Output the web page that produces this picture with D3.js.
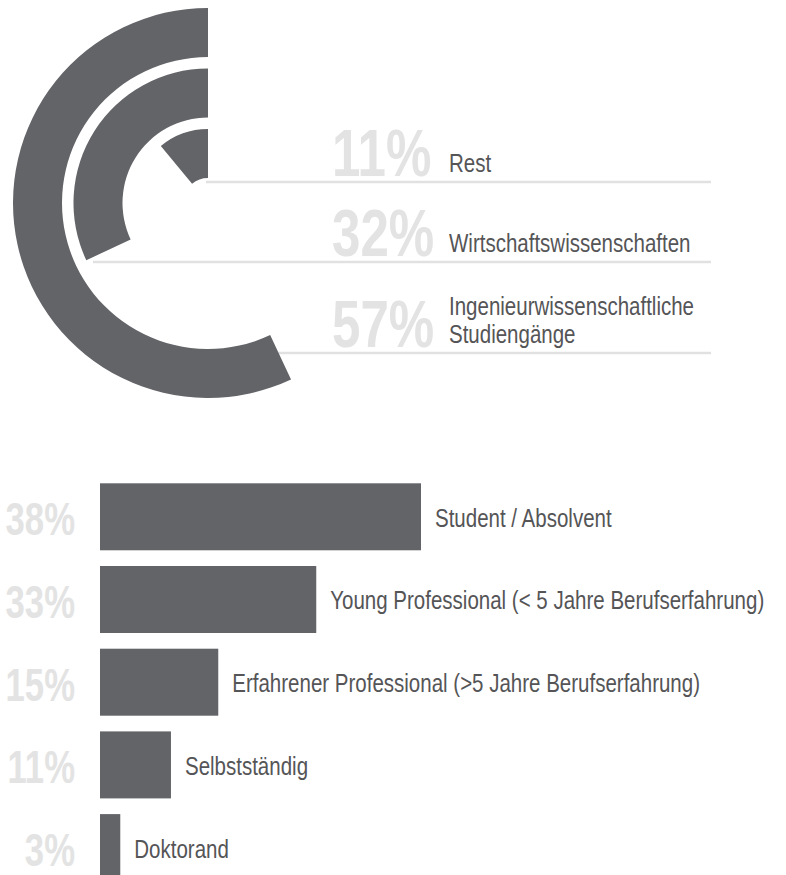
<!DOCTYPE html>
<html>
<head>
<meta charset="utf-8">
<script src="https://cdn.jsdelivr.net/npm/d3@7"></script>
<style>
  html, body { margin: 0; padding: 0; background: #ffffff; }
  svg { display: block; }
</style>
</head>
<body>
<div id="chart"></div>
<script>
// ---------- data ----------
const ringCategories = ["Rest", "Wirtschaftswissenschaften", "Ingenieurwissenschaftliche Studiengänge"];
const ringValues = [11, 32, 57];
const ringLabelLines = [["Rest"], ["Wirtschaftswissenschaften"], ["Ingenieurwissenschaftliche", "Studiengänge"]];

const barCategories = [
  "Student / Absolvent",
  "Young Professional (< 5 Jahre Berufserfahrung)",
  "Erfahrener Professional (>5 Jahre Berufserfahrung)",
  "Selbstständig",
  "Doktorand"
];
// percentages printed next to the bars
const barPercentLabels = [38, 33, 15, 11, 3];
// bar lengths as drawn in the reference (not to scale there), read in % units
const barDrawnValues = [38, 25.6, 14.0, 8.4, 2.4];

// ---------- setup ----------
const W = 786, H = 875;
const barColor = "#636468";
const pctColor = "#e3e3e3";
const textColor = "#555557";
const ruleColor = "#e1e1e1";

// font detection: narrow font installed?
function narrowAvailable(name, weight) {
  const c = document.createElement("canvas").getContext("2d");
  const s = "Wirtschaftswissenschaften 0123456789%";
  c.font = `${weight} 40px monospace`;
  const a = c.measureText(s).width;
  c.font = `${weight} 40px '${name}', monospace`;
  const b = c.measureText(s).width;
  return Math.abs(a - b) > 0.5;
}
const hasNarrow = narrowAvailable("Liberation Sans Narrow", "normal");
const narrowFamily = hasNarrow ? "'Liberation Sans Narrow', 'Liberation Sans', Arial, sans-serif"
                               : "'Liberation Sans', Arial, sans-serif";
const narrowScale = hasNarrow ? 1 : 0.82;

const svg = d3.select("#chart").append("svg")
  .attr("width", W).attr("height", H);

function narrowText(g, x, y, sx, size, weight, color, anchor) {
  return g.append("text")
    .attr("transform", `translate(${x},${y}) scale(${sx * narrowScale},1)`)
    .attr("font-family", narrowFamily)
    .attr("font-size", size)
    .attr("font-weight", weight)
    .attr("fill", color)
    .attr("text-anchor", anchor || "start");
}

// ---------- top: radial bars ----------
const cx = 208, cy = 203;
const rScale = d3.scaleBand().domain(ringCategories).range([25, 195]).paddingInner(0.19).paddingOuter(0);
const angle = d3.scaleLinear().domain([0, 100]).range([0, -2 * Math.PI]);

const topG = svg.append("g");

// rules (drawn first, behind arcs)
const ruleY = [182, 262, 353];
const ruleX0 = [206, 93, 180];
const ruleX1 = 711;
topG.selectAll("line.rule").data(ringCategories).join("line")
  .attr("class", "rule")
  .attr("x1", (d, i) => ruleX0[i]).attr("x2", ruleX1)
  .attr("y1", (d, i) => ruleY[i]).attr("y2", (d, i) => ruleY[i])
  .attr("stroke", ruleColor).attr("stroke-width", 2.5);

const arc = d3.arc()
  .innerRadius(d => rScale(d.cat))
  .outerRadius(d => rScale(d.cat) + rScale.bandwidth())
  .startAngle(0)
  .endAngle(d => angle(d.value));

topG.append("g").attr("transform", `translate(${cx},${cy})`)
  .selectAll("path").data(ringCategories.map((c, i) => ({ cat: c, value: ringValues[i] })))
  .join("path")
  .attr("d", arc)
  .attr("fill", barColor);

// big percentages + labels
ringCategories.forEach((c, i) => {
  narrowText(topG, 332, ruleY[i] - 6, 0.93, 67, "bold", pctColor, "start")
    .text(ringValues[i] + "%");
  const lines = ringLabelLines[i];
  lines.forEach((ln, j) => {
    const yy = ruleY[i] - 10 - (lines.length - 1 - j) * 28;
    narrowText(topG, 449, yy, 1, 25, "normal", textColor, "start").text(ln);
  });
});

// ---------- bottom: bars ----------
const x = d3.scaleLinear().domain([0, 38]).range([100, 421]);
const y = d3.scaleBand().domain(barCategories).range([483.3, 881.1]).paddingInner(0.19).paddingOuter(0);

const bottomG = svg.append("g");
bottomG.selectAll("rect").data(barCategories).join("rect")
  .attr("x", x(0))
  .attr("y", d => y(d))
  .attr("width", (d, i) => x(barDrawnValues[i]) - x(0))
  .attr("height", y.bandwidth())
  .attr("fill", barColor);

barCategories.forEach((c, i) => {
  const cyb = y(c) + y.bandwidth() / 2;
  narrowText(bottomG, 75, cyb + 18.5, 0.92, 46, "bold", pctColor, "end")
    .text(barPercentLabels[i] + "%");
  narrowText(bottomG, x(barDrawnValues[i]) + 14, cyb + 10, 1, 25, "normal", textColor, "start")
    .text(c);
});
</script>
</body>
</html>
